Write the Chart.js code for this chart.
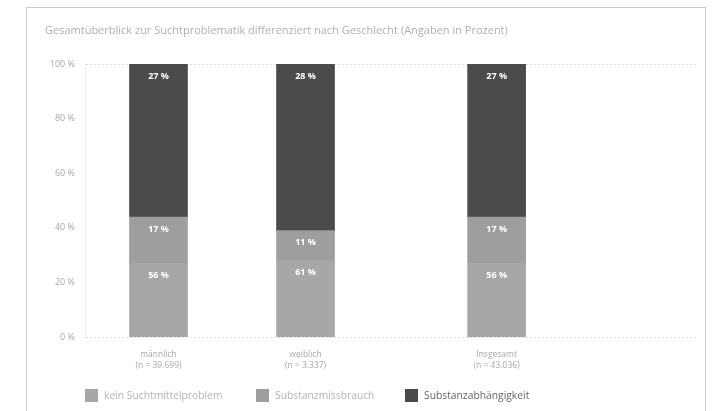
<!DOCTYPE html>
<html lang="de">
<head>
<meta charset="utf-8">
<title>Gesamtüberblick zur Suchtproblematik</title>
<script src="https://cdn.jsdelivr.net/npm/chart.js@4/dist/chart.umd.min.js"></script>
<style>
  html, body { margin: 0; padding: 0; background: #fff; }
  body { width: 715px; height: 411px; position: relative; overflow: hidden; font-family: "Open Sans", "Noto Sans", sans-serif; }
  #frame { position: absolute; left: 26px; top: 7px; width: 678px; height: 420px;
           border: 1.6px solid #cbcbcb; border-bottom: none; }
  #wrap { position: absolute; left: 0; top: 0; width: 715px; height: 411px; }
  #legend { position: absolute; left: 85px; top: 388px; display: flex; align-items: center; }
  .item { display: flex; align-items: center; font-size: 10.3px; }
  .box { width: 13px; height: 13px; margin-right: 6px; }
</style>
</head>
<body>
<div id="frame"></div>
<div id="wrap"><canvas id="chart" width="715" height="411"></canvas></div>
<div id="legend"></div>
<script>
// Anteile in Prozent je Gruppe
const groups = [["männlich", "(n = 39.699)"], ["weiblich", "(n = 3.337)"], ["Insgesamt", "(n = 43.036)"]];
const xSlots = [0.5, 1.5, 2.8];
const seriesNames = ["kein Suchtmittelproblem", "Substanzmissbrauch", "Substanzabhängigkeit"];
const keinProblem = [27, 28, 27];
const missbrauch = [17, 11, 17];
const abhaengigkeit = [56, 61, 56];
const yTicks = [0, 20, 40, 60, 80, 100];

const seriesColors = ["#a7a7a7", "#9e9e9e", "#4b4b4b"];
const legendText = ["#b4b4b4", "#b4b4b4", "#666666"];
const seriesValues = [keinProblem, missbrauch, abhaengigkeit];

const datasets = seriesNames.map((name, s) => ({
  label: name,
  data: xSlots.map((x, i) => ({ x: x, y: seriesValues[s][i] })),
  backgroundColor: seriesColors[s],
  borderWidth: 0,
  barThickness: 58
}));

// Prozentwerte in den Segmenten (Reihenfolge von oben nach unten)
const segmentLabels = {
  id: "segmentLabels",
  afterDatasetsDraw(chart) {
    const ctx = chart.ctx;
    const n = chart.data.datasets.length;
    ctx.save();
    ctx.fillStyle = "#ffffff";
    ctx.font = "bold 9px 'Open Sans', 'Noto Sans', sans-serif";
    ctx.textAlign = "center";
    ctx.textBaseline = "middle";
    for (let s = 0; s < n; s++) {
      const meta = chart.getDatasetMeta(s);
      const src = chart.data.datasets[n - 1 - s];
      meta.data.forEach((bar, i) => {
        ctx.fillText(src.data[i].y + " %", bar.x, bar.y + 12);
      });
    }
    ctx.restore();
  }
};

new Chart(document.getElementById("chart"), {
  type: "bar",
  data: { datasets },
  options: {
    responsive: false,
    animation: false,
    layout: { padding: { left: 45, right: 18, top: 0, bottom: 36 } },
    plugins: {
      legend: { display: false },
      tooltip: { enabled: false },
      title: {
        display: true,
        align: "start",
        text: "Gesamtüberblick zur Suchtproblematik differenziert nach Geschlecht (Angaben in Prozent)",
        color: "#b0b0b0",
        font: { family: "'Open Sans', 'Noto Sans', sans-serif", size: 11, weight: "normal" },
        padding: { top: 24.4, bottom: 26.4 }
      }
    },
    scales: {
      x: {
        type: "linear",
        stacked: true,
        offset: false,
        min: 0,
        max: 4.163,
        afterBuildTicks(axis) { axis.ticks = xSlots.map(v => ({ value: v })); },
        ticks: {
          autoSkip: false,
          maxRotation: 0,
          padding: 3,
          color: "#a8a8a8",
          font: { family: "'Open Sans', 'Noto Sans', sans-serif", size: 8.5, lineHeight: 1.4 },
          callback: (value, index) => groups[index]
        },
        grid: { display: false },
        border: { display: false }
      },
      y: {
        stacked: true,
        min: 0,
        max: 100,
        afterBuildTicks(axis) { axis.ticks = yTicks.map(v => ({ value: v })); },
        afterFit(axis) { axis.width = 40; },
        ticks: {
          padding: 10,
          color: "#a8a8a8",
          font: { family: "'Open Sans', 'Noto Sans', sans-serif", size: 9 },
          callback: v => v + " %"
        },
        grid: {
          drawTicks: false,
          lineWidth: 1,
          color: c => (c.tick && (c.tick.value === 0 || c.tick.value === 100)) ? "#dcdcdc" : "rgba(0,0,0,0)"
        },
        border: { display: true, color: "#ececec", width: 1, dash: [2, 2] }
      }
    }
  },
  plugins: [segmentLabels]
});

// Legende
const legendWidths = [171, 149, null];
const legend = document.getElementById("legend");
seriesNames.forEach((name, s) => {
  const item = document.createElement("div");
  item.className = "item";
  if (legendWidths[s]) item.style.width = legendWidths[s] + "px";
  const box = document.createElement("span");
  box.className = "box";
  box.style.background = seriesColors[s];
  const txt = document.createElement("span");
  txt.textContent = name;
  txt.style.color = legendText[s];
  item.appendChild(box);
  item.appendChild(txt);
  legend.appendChild(item);
});
</script>
</body>
</html>
